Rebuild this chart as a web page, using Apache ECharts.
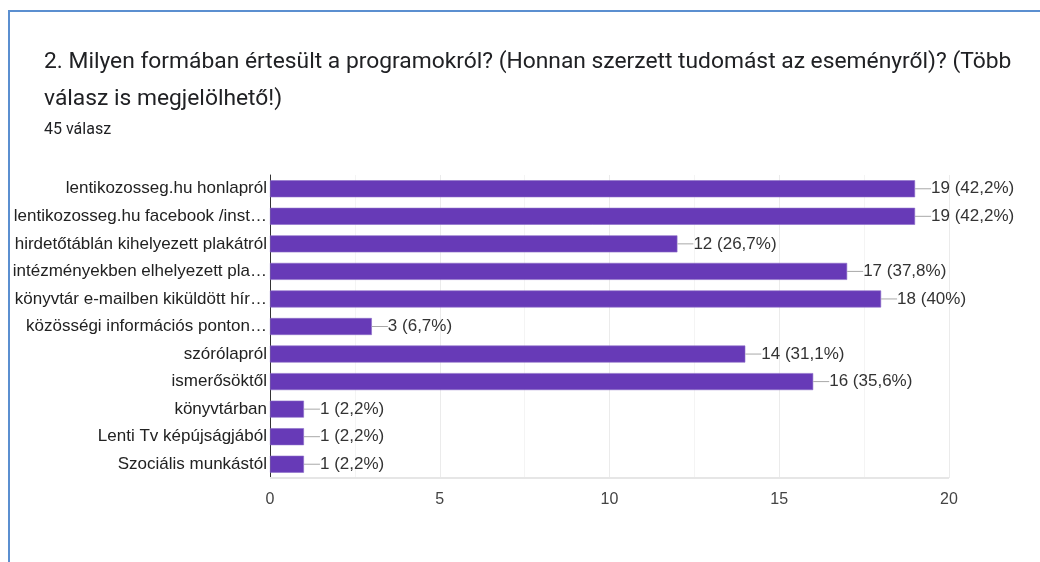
<!DOCTYPE html>
<html><head><meta charset="utf-8">
<script src="https://cdn.jsdelivr.net/npm/echarts@6/dist/echarts.min.js"></script>
<style>html,body{margin:0;padding:0;background:#fff;}#c{width:1040px;height:562px;}</style>
</head><body><div id="c"></div>
<script>
var categories = ['lentikozosseg.hu honlapról','lentikozosseg.hu facebook /inst…','hirdetőtáblán kihelyezett plakátról','intézményekben elhelyezett pla…','könyvtár e-mailben kiküldött hír…','közösségi információs ponton…','szórólapról','ismerősöktől','könyvtárban','Lenti Tv képújságjából','Szociális munkástól'];
var values = [19,19,12,17,18,3,14,16,1,1,1];
var percents = ['42,2%','42,2%','26,7%','37,8%','40%','6,7%','31,1%','35,6%','2,2%','2,2%','2,2%'];
var xTicks = [0,5,10,15,20];
var titleLines = ['2. Milyen formában értesült a programokról? (Honnan szerzett tudomást az eseményről)? (Több','válasz is megjelölhető!)'];
var subtitle = '45 válasz';

var chart = echarts.init(document.getElementById('c'), null, {renderer:'canvas'});
chart.setOption({
  animation:false,
  backgroundColor:'#fff',
  graphic:[
    {type:'line', shape:{x1:9,y1:11,x2:1040,y2:11}, style:{stroke:'#5b8fd0', lineWidth:2}},
    {type:'line', shape:{x1:9,y1:10,x2:9,y2:562}, style:{stroke:'#5b8fd0', lineWidth:2}},
    {type:'text', left:44, top:51, style:{text:titleLines[0], font:'22.8px Roboto', fill:'#202124'}},
    {type:'text', left:44, top:88, style:{text:titleLines[1], font:'22.8px Roboto', fill:'#202124'}},
    {type:'text', left:44, top:122, style:{text:subtitle, font:'16px Roboto', fill:'#202124'}}
  ],
  grid:{left:270, right:91, top:175, bottom:84, containLabel:false},
  xAxis:{type:'value', min:0, max:20, interval:5,
    axisLine:{show:false}, axisTick:{show:false},
    axisLabel:{color:'#444', fontFamily:'Liberation Sans, Arial', fontSize:16, margin:14,
      formatter:function(v){return xTicks.indexOf(v)>=0?String(v):'';}},
    splitLine:{show:true, lineStyle:{color:'#ebebeb', width:1}},
    minorSplitLine:{show:true, lineStyle:{color:'#f4f4f4', width:1}},
    minorTick:{show:false, splitNumber:2}
  },
  yAxis:{type:'category', data:categories, inverse:true,
    axisLine:{show:true, lineStyle:{color:'#333', width:1}},
    axisTick:{show:false},
    axisLabel:{color:'#222', fontFamily:'Liberation Sans, Arial', fontSize:17, margin:3}
  },
  series:[{
    type:'bar', data:values, barWidth:17,
    itemStyle:{color:'#673ab7', borderColor:'#8c6bc8', borderWidth:0.6},
    label:{show:true, position:'right', distance:0,
      formatter:function(p){return '{l|}{t|'+p.value+' ('+percents[p.dataIndex]+')}';},
      rich:{
        l:{width:16, height:1, backgroundColor:'#a8a8a8', verticalAlign:'middle'},
        t:{color:'#333', fontFamily:'Liberation Sans, Arial', fontSize:17}
      }
    }
  }, {
    type:'line', data:[], markLine:{silent:true, symbol:'none', label:{show:false},
      lineStyle:{color:'#e6e6e6', width:2, type:'solid'},
      data:[[{coord:[0,10], y:478},{coord:[20,10], y:478}]]}
  }]
});
</script></body></html>
